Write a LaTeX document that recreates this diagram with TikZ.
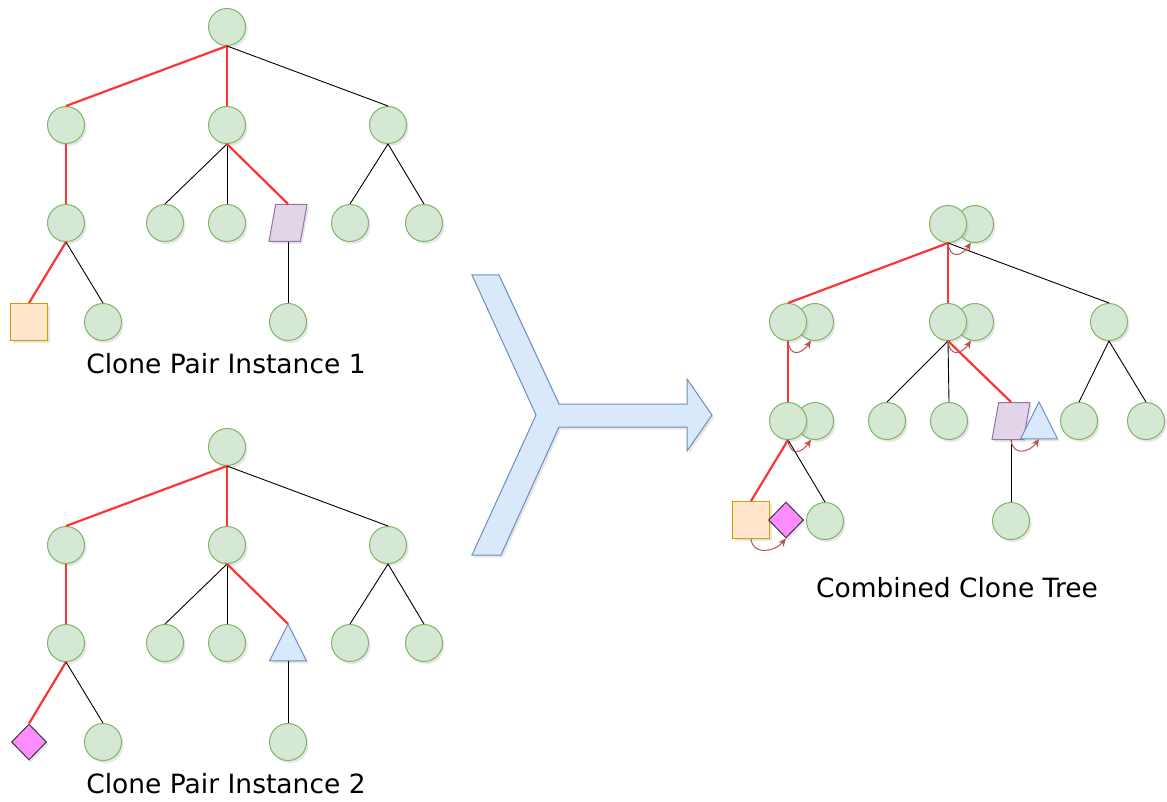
\documentclass[tikz,border=0pt]{standalone}
\usepackage{fontspec}
\setmainfont{DejaVu Sans}
\usepackage{tikz}
\usetikzlibrary{arrows.meta}
\usetikzlibrary{shapes.geometric}
\usetikzlibrary{shadows}

\definecolor{vfill}{HTML}{D5E8D4}
\definecolor{vline}{HTML}{82B366}
\definecolor{sqfill}{HTML}{FFE6CC}
\definecolor{sqline}{HTML}{D79B00}
\definecolor{parfill}{HTML}{E1D5E7}
\definecolor{parline}{HTML}{9673A6}
\definecolor{trifill}{HTML}{DAE8FC}
\definecolor{triline}{HTML}{6C8EBF}
\definecolor{diafill}{HTML}{FF8CFF}
\definecolor{dialine}{HTML}{36393D}
\definecolor{hotred}{HTML}{FF3333}
\definecolor{mergered}{HTML}{B85450}

\tikzset{
  soft/.style={drop shadow={shadow xshift=2pt,shadow yshift=-2.5pt,opacity=0.2}},
  tnode/.style={circle,draw=vline,fill=vfill,line width=1pt,minimum size=37pt,inner sep=0pt,soft},
  clonesq/.style={rectangle,draw=sqline,fill=sqfill,line width=1pt,minimum size=37pt,inner sep=0pt,soft},
  clonepar/.style={trapezium,trapezium left angle=75,trapezium right angle=105,trapezium stretches=true,
    draw=parline,fill=parfill,line width=1pt,minimum width=38pt,minimum height=37pt,inner sep=1pt,soft},
  % centre of this shape is its centroid, so place it 6pt below the box middle
  clonetri/.style={isosceles triangle,shape border rotate=90,isosceles triangle stretches=true,
    draw=triline,fill=trifill,line width=1pt,minimum width=37pt,minimum height=37pt,inner sep=1pt,outer sep=0pt,soft},
  clonedia/.style={diamond,draw=dialine,fill=diafill,line width=1pt,minimum width=35pt,minimum height=36pt,inner sep=0pt,soft},
  hot/.style={draw=hotred,line width=2.2pt},
  cold/.style={draw=black,line width=0.9pt},
  merge/.style={draw=mergered,line width=1pt,-{Stealth[length=8pt,width=7pt]}},
  caption/.style={font=\fontsize{26.5}{30}\selectfont,inner sep=0pt,anchor=base}
}

\begin{document}
\begin{tikzpicture}[x=1pt,y=-1pt]
\useasboundingbox (0,0) rectangle (1167,802);

% first instance
\node[tnode] (a0) at (227,27) {};
\node[tnode] (a1) at (66,125) {};
\node[tnode] (a2) at (227,125) {};
\node[tnode] (a3) at (388,125) {};
\node[tnode] (a11) at (66,223) {};
\node[tnode] (a21) at (165,223) {};
\node[tnode] (a22) at (227,223) {};
\node[clonepar] (a23) at (288,223) {};
\node[tnode] (a31) at (350,223) {};
\node[tnode] (a32) at (424,223) {};
\node[clonesq] (a111) at (29,322) {};
\node[tnode] (a112) at (103,322) {};
\node[tnode] (a231) at (288,322) {};

\draw[hot] (a0.south) -- (a1.north);
\draw[hot] (a0.south) -- (a2.north);
\draw[cold] (a0.south) -- (a3.north);
\draw[hot] (a1.south) -- (a11.north);
\draw[cold] (a2.south) -- (a21.north);
\draw[cold] (a2.south) -- (a22.north);
\draw[hot] (a2.south) -- (a23.north);
\draw[cold] (a3.south) -- (a31.north);
\draw[cold] (a3.south) -- (a32.north);
\draw[hot] (a11.south) -- (a111.north);
\draw[cold] (a11.south) -- (a112.north);
\draw[cold] (a23.south) -- (a231.north);

\node[caption] (cap1) at (226,373) {Clone Pair Instance 1};

% second instance
\node[tnode] (b0) at (227,447) {};
\node[tnode] (b1) at (66,545) {};
\node[tnode] (b2) at (227,545) {};
\node[tnode] (b3) at (388,545) {};
\node[tnode] (b11) at (66,643) {};
\node[tnode] (b21) at (165,643) {};
\node[tnode] (b22) at (227,643) {};
\node[clonetri] (b23) at (288,649.7) {};
\node[tnode] (b31) at (350,643) {};
\node[tnode] (b32) at (424,643) {};
\node[clonedia] (b111) at (29,742) {};
\node[tnode] (b112) at (103,742) {};
\node[tnode] (b231) at (288,742) {};

\draw[hot] (b0.south) -- (b1.north);
\draw[hot] (b0.south) -- (b2.north);
\draw[cold] (b0.south) -- (b3.north);
\draw[hot] (b1.south) -- (b11.north);
\draw[cold] (b2.south) -- (b21.north);
\draw[cold] (b2.south) -- (b22.north);
\draw[hot] (b2.south) -- (b23.apex);
\draw[cold] (b3.south) -- (b31.north);
\draw[cold] (b3.south) -- (b32.north);
\draw[hot] (b11.south) -- (b111.north);
\draw[cold] (b11.south) -- (b112.north);
\draw[cold] (b23.south) -- (b231.north);

\node[caption] (cap2) at (226,793) {Clone Pair Instance 2};

% merge arrow
\draw[fill=trifill,draw=triline,line width=1pt,soft]
  (472,275) -- (499,275) -- (559,404) -- (687,404) -- (687,379) -- (712,415)
  -- (687,451) -- (687,427) -- (559,427) -- (501,555) -- (472,555) -- (536,415) -- cycle;

% combined tree, merged copies sit behind
\node[tnode] (c0m) at (975,224) {};
\node[tnode] (c1m) at (815,322) {};
\node[tnode] (c2m) at (975,322) {};
\node[tnode] (c11m) at (815,421) {};

\node[tnode] (c0) at (948,224) {};
\node[tnode] (c1) at (788,322) {};
\node[tnode] (c2) at (948,322) {};
\node[tnode] (c3) at (1109,322) {};
\node[tnode] (c11) at (788,421) {};
\node[tnode] (c21) at (887,421) {};
\node[tnode] (c22) at (949,421) {};
\node[clonepar] (c23) at (1011,421) {};
\node[clonetri] (c23m) at (1039,427.7) {};
\node[tnode] (c31) at (1079,421) {};
\node[tnode] (c32) at (1146,421) {};
\node[clonesq] (c111) at (751,520) {};
\node[clonedia] (c111m) at (786,520) {};
\node[tnode] (c112) at (825,521) {};
\node[tnode] (c231) at (1011,521) {};

\draw[hot] (c0.south) -- (c1.north);
\draw[hot] (c0.south) -- (c2.north);
\draw[cold] (c0.south) -- (c3.north);
\draw[hot] (c1.south) -- (c11.north);
\draw[cold] (c2.south) -- (c21.north);
\draw[cold] (c2.south) -- (c22.north);
\draw[hot] (c2.south) -- (c23.north);
\draw[cold] (c3.south) -- (c31.north);
\draw[cold] (c3.south) -- (c32.north);
\draw[hot] (c11.south) -- (c111.north);
\draw[cold] (c11.south) -- (c112.north);
\draw[cold] (c23.south) -- (c231.north);

\draw[merge] (c0.south) .. controls +(2,17) and +(-9,13) .. (c0m.258);
\draw[merge] (c1.south) .. controls +(2,17) and +(-9,13) .. (c1m.258);
\draw[merge] (c2.south) .. controls +(2,17) and +(-9,13) .. (c2m.258);
\draw[merge] (c11.south) .. controls +(2,17) and +(-9,13) .. (c11m.258);
\draw[merge] (c23.south) .. controls +(2,17) and +(-9,13) .. (c23m.south);
\draw[merge] (c111.south) .. controls +(2,17) and +(-11,13) .. (c111m.south);

\node[caption] (cap3) at (957,597) {Combined Clone Tree};

\end{tikzpicture}
\end{document}
